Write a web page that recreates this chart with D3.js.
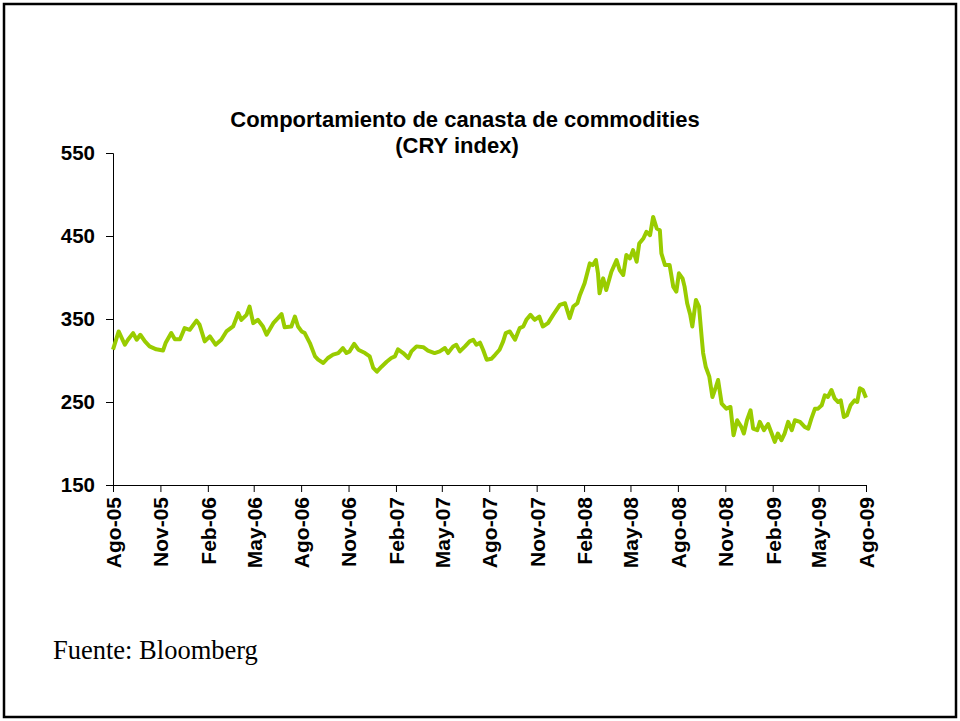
<!DOCTYPE html>
<html>
<head>
<meta charset="utf-8">
<script src="https://cdn.jsdelivr.net/npm/d3@7"></script>
<style>
  html, body { margin: 0; padding: 0; background: #fff; }
  svg { display: block; }
</style>
</head>
<body>
<svg id="chart" width="960" height="721"></svg>
<script>
const titleLines = ["Comportamiento de canasta de commodities", "(CRY index)"];
const sourceText = "Fuente: Bloomberg";
const yTicks = [150, 250, 350, 450, 550];
const xTickDates = ["2005-08-01","2005-11-01","2006-02-01","2006-05-01","2006-08-01","2006-11-01","2007-02-01","2007-05-01","2007-08-01","2007-11-01","2008-02-01","2008-05-01","2008-08-01","2008-11-01","2009-02-01","2009-05-01","2009-08-01"];
const xTickLabels = ["Ago-05","Nov-05","Feb-06","May-06","Ago-06","Nov-06","Feb-07","May-07","Ago-07","Nov-07","Feb-08","May-08","Ago-08","Nov-08","Feb-09","May-09","Ago-09"];

const dates = [
"2005-08-01","2005-08-12","2005-08-24","2005-08-30","2005-09-09","2005-09-16","2005-09-23","2005-10-02","2005-10-11","2005-10-24",
"2005-11-06","2005-11-11","2005-11-22","2005-11-29","2005-12-09","2005-12-18","2005-12-28","2006-01-10","2006-01-16","2006-01-26",
"2006-02-05","2006-02-16","2006-02-27","2006-03-09","2006-03-22","2006-04-01","2006-04-07","2006-04-17","2006-04-23","2006-04-30",
"2006-05-09","2006-05-19","2006-05-26","2006-06-08","2006-06-17","2006-06-24","2006-06-30","2006-07-13","2006-07-20","2006-07-26",
"2006-08-02","2006-08-08","2006-08-18","2006-08-28","2006-09-03","2006-09-13","2006-09-22","2006-10-02","2006-10-12","2006-10-21",
"2006-10-28","2006-11-03","2006-11-12","2006-11-20","2006-12-03","2006-12-12","2006-12-19","2006-12-26","2007-01-04","2007-01-14",
"2007-01-23","2007-01-30","2007-02-05","2007-02-15","2007-02-25","2007-03-03","2007-03-13","2007-03-26","2007-04-04","2007-04-17",
"2007-04-27","2007-05-07","2007-05-13","2007-05-23","2007-05-29","2007-06-05","2007-06-15","2007-06-24","2007-07-01","2007-07-07",
"2007-07-14","2007-07-20","2007-07-27","2007-08-05","2007-08-12","2007-08-21","2007-08-28","2007-09-02","2007-09-10","2007-09-20",
"2007-09-29","2007-10-06","2007-10-12","2007-10-20","2007-10-28","2007-11-06","2007-11-13","2007-11-23","2007-12-03","2007-12-16",
"2007-12-26","2008-01-04","2008-01-11","2008-01-19","2008-01-24","2008-02-02","2008-02-12","2008-02-18","2008-02-24","2008-02-28",
"2008-03-02","2008-03-09","2008-03-15","2008-03-25","2008-04-04","2008-04-10","2008-04-17","2008-04-23","2008-04-30","2008-05-06",
"2008-05-13","2008-05-18","2008-05-26","2008-06-01","2008-06-08","2008-06-14","2008-06-21","2008-06-27","2008-06-30","2008-07-07",
"2008-07-16","2008-07-23","2008-07-29","2008-08-03","2008-08-10","2008-08-14","2008-08-19","2008-08-25","2008-08-29","2008-09-05",
"2008-09-11","2008-09-16","2008-09-19","2008-09-24","2008-10-01","2008-10-07","2008-10-14","2008-10-18","2008-10-25","2008-11-03",
"2008-11-11","2008-11-17","2008-11-24","2008-12-02","2008-12-07","2008-12-13","2008-12-20","2008-12-25","2009-01-02","2009-01-07",
"2009-01-15","2009-01-23","2009-01-30","2009-02-05","2009-02-11","2009-02-18","2009-02-24","2009-03-03","2009-03-10","2009-03-16",
"2009-03-26","2009-04-04","2009-04-11","2009-04-17","2009-04-24","2009-04-30","2009-05-07","2009-05-13","2009-05-19","2009-05-26",
"2009-06-01","2009-06-08","2009-06-13","2009-06-19","2009-06-25","2009-07-02","2009-07-10","2009-07-15","2009-07-20","2009-07-26",
"2009-08-01"
];
const values = [
313,335,319,325,333,325,331,323,317,313.5,
312,321,333,325.5,325.5,339,337,348,343,323,
329,319,325,335,341,357,349,355,365,345,
349,341,331,345,351,356,340,341,353,341,
335,333,321,305,301,297,303,307,309,315,
309,311,320,313,309,305,291,286.5,292.5,298.5,
303,305,313.5,309,303,311,317,316,312,309,
311,315,309,317,319,311,317,323,325,319,
321.5,313,301,302,306.6,313,323,333,335,325,
339,341,349,355,349,353,341,345,355,367,
369,351,365,369,379,393,417,415,421,405,
381,399,385,407,421,409,403,427,423,433,
419,441,447,455,451,473,459,457,429,415,
415,389,383,405,399,389,369,355,341,373,
365,329,309,292.5,280.5,256,268.5,276.5,248,242,
244,210,228,220,212,228,240,218,216,226,
216,223.5,212,202,212,204,212,226,216,228,
226,220,218,230,242,242,246,258,256,264.5,
254.5,250,252,232,234,246,252,250,266.5,264.5,
255
];

const parse = d3.timeParse("%Y-%m-%d");
const data = dates.map((d, i) => ({ date: parse(d), value: values[i] }));

const svg = d3.select("#chart");

// outer frame
svg.append("rect")
  .attr("x", 4).attr("y", 4).attr("width", 952).attr("height", 713)
  .attr("fill", "none").attr("stroke", "#000").attr("stroke-width", 2.5);

const x = d3.scaleTime()
  .domain([parse("2005-08-01"), parse("2009-08-01")])
  .range([113, 866]);
const y = d3.scaleLinear().domain([150, 550]).range([485, 153]);

const tickFont = "Liberation Sans, Arial, sans-serif";

// y axis
const yAxis = svg.append("g")
  .attr("transform", "translate(113,0)")
  .call(d3.axisLeft(y).tickValues(yTicks).tickSize(7).tickPadding(11).tickFormat(d3.format("d")));
yAxis.select(".domain").attr("stroke", "#000").attr("stroke-width", 1);
yAxis.selectAll(".tick line").attr("stroke", "#000");
yAxis.selectAll(".tick text")
  .attr("font-family", tickFont).attr("font-weight", "bold").attr("font-size", 20.5).attr("fill", "#000");

// x axis
const xAxis = svg.append("g")
  .attr("transform", "translate(0,485)")
  .call(d3.axisBottom(x).tickValues(xTickDates.map(parse)).tickSize(7)
    .tickFormat((d, i) => xTickLabels[i]));
xAxis.select(".domain").attr("stroke", "#000").attr("stroke-width", 1);
xAxis.selectAll(".tick line").attr("stroke", "#000");
xAxis.selectAll(".tick text")
  .attr("font-family", tickFont).attr("font-weight", "bold").attr("font-size", 21).attr("fill", "#000")
  .attr("text-anchor", "end")
  .attr("transform", "rotate(-90)")
  .attr("x", -12).attr("y", 0).attr("dy", "0.35em");

// line
const line = d3.line().x(d => x(d.date)).y(d => y(d.value));
svg.append("path")
  .datum(data)
  .attr("d", line)
  .attr("fill", "none")
  .attr("stroke", "#99CC00")
  .attr("stroke-width", 4)
  .attr("stroke-linejoin", "round");

// title
svg.append("text")
  .attr("x", 465).attr("y", 127)
  .attr("text-anchor", "middle")
  .attr("font-family", tickFont).attr("font-weight", "bold").attr("font-size", 22)
  .text(titleLines[0]);
svg.append("text")
  .attr("x", 457).attr("y", 153)
  .attr("text-anchor", "middle")
  .attr("font-family", tickFont).attr("font-weight", "bold").attr("font-size", 22)
  .text(titleLines[1]);

// source
svg.append("text")
  .attr("x", 53).attr("y", 659)
  .attr("font-family", "Liberation Serif, Times New Roman, serif").attr("font-size", 26.5)
  .text(sourceText);
</script>
</body>
</html>
